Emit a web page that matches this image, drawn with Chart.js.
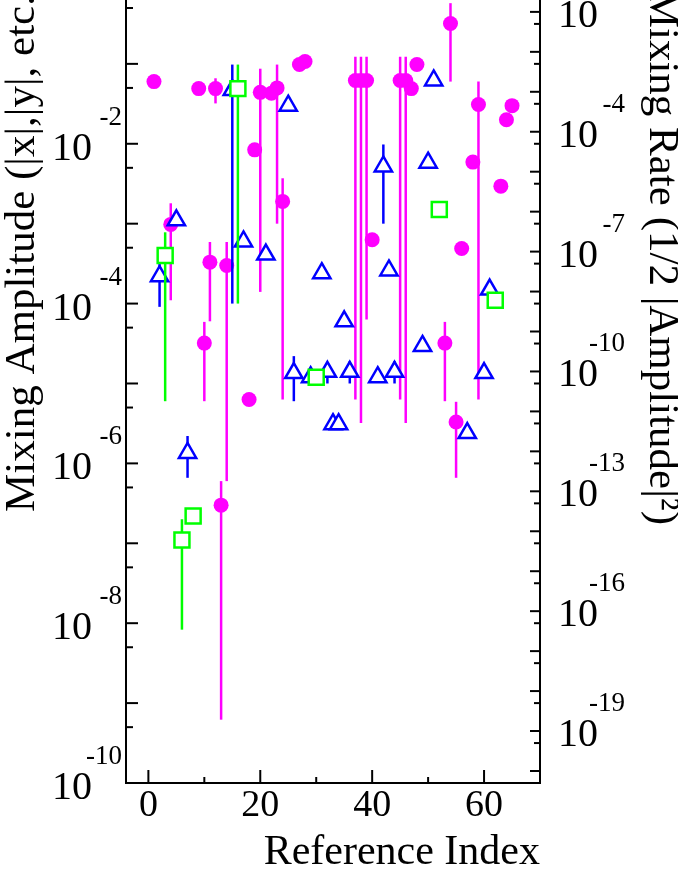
<!DOCTYPE html>
<html lang="en">
<head>
<meta charset="UTF-8">
<title>Mixing Amplitude vs Reference Index</title>
<script src="https://cdn.jsdelivr.net/npm/chart.js"></script>
<style>
  html, body { margin: 0; padding: 0; background: #fff; }
  #wrap { width: 678px; height: 878px; }
</style>
</head>
<body>
<div id="wrap"><canvas id="mixChart" width="678" height="878"></canvas></div>
<script>
// filled magenta circles: index, amplitude, error bar low / high (null = no bar)
const circIdx = [1, 4, 9, 10, 11, 12, 13, 14, 18, 19, 20, 22, 23, 24, 27, 28, 37, 38, 39, 40, 45, 46, 47, 48, 53, 54, 55, 56, 58, 59, 63, 64, 65];
const circAmp = [0.060, 9.8e-4, 0.049, 3.2e-5, 3.3e-4, 0.049, 3.0e-7, 3.0e-4, 6.3e-6, 8.4e-3, 0.044, 0.043, 0.050, 1.9e-3, 0.098, 0.107, 0.062, 0.062, 0.062, 6.3e-4, 0.062, 0.062, 0.049, 0.098, 3.2e-5, 0.32, 3.3e-6, 4.9e-4, 5.9e-3, 0.031, 2.95e-3, 0.020, 0.030];
const circLo  = [null, 1.1e-4, null, 6.0e-6, 6.0e-5, 0.032, 6.2e-10, 6.0e-7, null, null, 1.4e-4, null, 1.0e-3, 6.3e-6, null, null, 6.3e-6, 3.2e-6, 6.3e-5, null, 6.3e-6, 3.2e-6, null, null, 6.0e-6, 0.060, 6.6e-7, null, null, 6.3e-6, null, null, null];
const circHi  = [null, 1.8e-3, null, 5.9e-5, 5.9e-4, 0.066, 6.0e-7, 5.9e-4, null, null, 0.087, null, 0.098, 3.7e-3, null, null, 0.123, 0.123, 0.123, null, 0.123, 0.123, null, null, 5.9e-5, 0.575, 5.9e-6, null, null, 0.060, null, null, null];

// open blue triangles
const triIdx = [2, 5, 7, 15, 17, 21, 25, 26, 29, 31, 32, 33, 34, 35, 36, 41, 42, 43, 44, 49, 50, 51, 57, 60, 61];
const triAmp = [2.2e-4, 1.1e-3, 1.35e-6, 0.047, 6.0e-4, 4.1e-4, 0.030, 1.35e-5, 1.2e-5, 2.4e-4, 1.4e-5, 3.1e-6, 3.1e-6, 6.0e-5, 1.4e-5, 1.2e-5, 5.2e-3, 2.6e-4, 1.4e-5, 2.95e-5, 5.8e-3, 0.062, 2.4e-6, 1.35e-5, 1.5e-4];
const triLo  = [9.1e-5, null, 6.6e-7, 1.0e-4, null, null, null, 6.0e-6, null, null, 1.0e-5, null, null, null, 1.0e-5, null, 1.0e-3, null, 1.0e-5, null, null, null, null, null, null];
const triHi  = [3.5e-4, null, 2.2e-6, 0.098, null, null, null, 2.2e-5, null, null, 1.8e-5, null, null, null, 1.9e-5, null, 9.8e-3, null, 1.9e-5, null, null, null, null, null, null];

// open green squares
const sqIdx = [3, 6, 8, 16, 30, 52, 62];
const sqAmp = [4.0e-4, 1.1e-7, 2.2e-7, 0.049, 1.2e-5, 1.5e-3, 1.1e-4];
const sqLo  = [6.0e-6, 8.3e-9, null, 1.0e-4, null, null, null];
const sqHi  = [7.8e-4, 2.0e-7, null, 0.098, null, null, null];

// axes
const xMin = -4, xMax = 70;
const xTicks = [0, 20, 40, 60];
const xMinorTicks = [10, 30, 50];
const yMin = 1e-10, yMax = 0.63;
const leftLabelExps = [-10, -8, -6, -4, -2];
const rightLabelExps = [-1, -4, -7, -10, -13, -16, -19];

const MAGENTA = '#ff00ff', BLUE = '#0000ff', GREEN = '#00ff00';
const SERIF = '"Liberation Serif", "DejaVu Serif", serif';

function toPoints(xs, ys) {
    return xs.map((v, i) => ({ x: v, y: ys[i] }));
}

// vertical error bars, drawn just before each dataset's markers
const errorBars = {
    id: 'errorBars',
    beforeDatasetDraw(chart, args) {
        const ds = chart.data.datasets[args.index];
        const { ctx, scales: { x, y } } = chart;
        ctx.save();
        ctx.strokeStyle = ds.barColor;
        ctx.lineWidth = 2.5;
        ds.data.forEach((p, i) => {
            if (ds.errLo[i] == null) return;
            const px = x.getPixelForValue(p.x);
            ctx.beginPath();
            ctx.moveTo(px, y.getPixelForValue(ds.errHi[i]));
            ctx.lineTo(px, y.getPixelForValue(ds.errLo[i]));
            ctx.stroke();
        });
        ctx.restore();
    }
};

// inward ticks, superscript labels and rotated titles
const frame = {
    id: 'frame',
    afterDraw(chart) {
        const { ctx, chartArea: a, scales: { x, y, y2 } } = chart;
        ctx.save();
        ctx.strokeStyle = '#000';
        ctx.fillStyle = '#000';
        ctx.lineWidth = 2;

        const line = (x0, y0, x1, y1) => {
            ctx.beginPath(); ctx.moveTo(x0, y0); ctx.lineTo(x1, y1); ctx.stroke();
        };
        line(a.left, a.top, a.left, a.bottom + 1);
        line(a.right, a.top, a.right, a.bottom + 1);

        // x ticks
        xTicks.forEach(v => { const px = x.getPixelForValue(v); line(px, a.bottom, px, a.bottom - 13); });
        xMinorTicks.forEach(v => { const px = x.getPixelForValue(v); line(px, a.bottom, px, a.bottom - 6); });

        // left ticks: decades long, 5x decades short
        for (let e = -10; e <= 0; e++) {
            const d = y.getPixelForValue(Math.pow(10, e));
            if (d >= a.top && d <= a.bottom) line(a.left, d, a.left + 12, d);
            const h = y.getPixelForValue(5 * Math.pow(10, e));
            if (h >= a.top && h <= a.bottom) line(a.left, h, a.left + 7, h);
        }
        // right ticks (rate)
        for (let e = -21; e <= 0; e++) {
            const d = y2.getPixelForValue(Math.pow(10, e));
            if (d >= a.top && d <= a.bottom) line(a.right, d, a.right - 10, d);
            const h = y2.getPixelForValue(5 * Math.pow(10, e));
            if (h >= a.top && h <= a.bottom) line(a.right, h, a.right - 6, h);
        }

        // left labels
        ctx.textBaseline = 'alphabetic';
        leftLabelExps.forEach(e => {
            const py = y.getPixelForValue(Math.pow(10, e));
            ctx.textAlign = 'right';
            ctx.font = '40px ' + SERIF;
            ctx.fillText('10', a.left - 34, py + 16);
            ctx.font = '27px ' + SERIF;
            ctx.fillText(String(e), a.left - 4, py - 19);
        });
        // right labels
        rightLabelExps.forEach(e => {
            const py = y2.getPixelForValue(Math.pow(10, e));
            ctx.textAlign = 'left';
            ctx.font = '40px ' + SERIF;
            ctx.fillText('10', a.right + 18, py + 15);
            ctx.textAlign = 'right';
            ctx.font = '27px ' + SERIF;
            ctx.fillText(String(e), a.right + 85, py - 20);
        });

        // rotated titles
        ctx.font = '43px ' + SERIF;
        ctx.save();
        ctx.translate(34, 512);
        ctx.rotate(-Math.PI / 2);
        ctx.textAlign = 'left';
        ctx.fillText('Mixing Amplitude (|x|,|y|, etc.)', 0, 0);
        ctx.restore();

        ctx.save();
        ctx.translate(650, 525);
        ctx.rotate(Math.PI / 2);
        ctx.textAlign = 'right';
        ctx.fillText('Mixing Rate (1/2 |Amplitude|\u00b2)', 0, 0);
        ctx.restore();

        ctx.restore();
    }
};

const ctx = document.getElementById('mixChart').getContext('2d');
new Chart(ctx, {
    type: 'scatter',
    data: {
        datasets: [
            {
                label: 'circles', data: toPoints(circIdx, circAmp), errLo: circLo, errHi: circHi,
                barColor: MAGENTA, pointStyle: 'circle', pointRadius: 7.5,
                backgroundColor: MAGENTA, borderColor: MAGENTA, borderWidth: 0, order: 3
            },
            {
                label: 'triangles', data: toPoints(triIdx, triAmp), errLo: triLo, errHi: triHi,
                barColor: BLUE, pointStyle: 'triangle', pointRadius: 10,
                backgroundColor: '#fff', borderColor: BLUE, borderWidth: 2.5, order: 2
            },
            {
                label: 'squares', data: toPoints(sqIdx, sqAmp), errLo: sqLo, errHi: sqHi,
                barColor: GREEN, pointStyle: 'rect', pointRadius: 10.6,
                backgroundColor: '#fff', borderColor: GREEN, borderWidth: 2.5, order: 1
            }
        ]
    },
    options: {
        responsive: false,
        animation: false,
        layout: { autoPadding: false, padding: { left: 126, right: 138, top: 0, bottom: 0 } },
        plugins: { legend: { display: false }, tooltip: { enabled: false } },
        scales: {
            x: {
                type: 'linear', min: xMin, max: xMax,
                afterBuildTicks: s => { s.ticks = xTicks.map(v => ({ value: v })); },
                afterFit: s => { s.height = 95; },
                grid: { display: false, drawTicks: false },
                border: { display: true, color: '#000', width: 2 },
                ticks: { font: { family: SERIF, size: 38 }, color: '#000', padding: 0, maxRotation: 0 },
                title: { display: true, text: 'Reference Index', align: 'end', color: '#000',
                         font: { family: SERIF, size: 42 }, padding: 0 }
            },
            y: { type: 'logarithmic', min: yMin, max: yMax, display: false },
            y2: { type: 'logarithmic', min: yMin * yMin / 2, max: yMax * yMax / 2, display: false }
        }
    },
    plugins: [errorBars, frame]
});
</script>
</body>
</html>
